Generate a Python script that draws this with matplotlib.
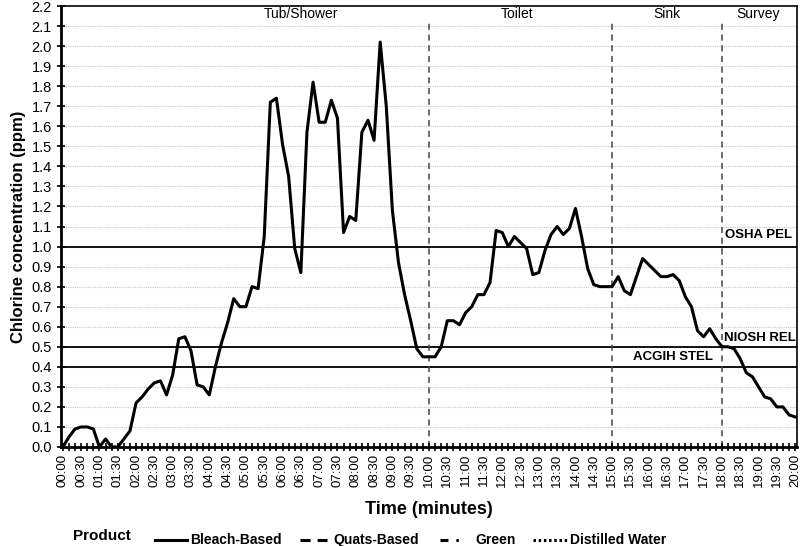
import matplotlib.pyplot as plt
from matplotlib.lines import Line2D

# -----------------------------
# Data (10-second readings, ppm)
# -----------------------------
seconds = list(range(0, 1201, 10))
bleach = [
    0.00, 0.05, 0.09, 0.10, 0.10, 0.09, 0.00, 0.04, 0.00, 0.00,
    0.04, 0.08, 0.22, 0.25, 0.29, 0.32, 0.33, 0.26, 0.36, 0.54,
    0.55, 0.48, 0.31, 0.30, 0.26, 0.40, 0.52, 0.62, 0.74, 0.70,
    0.70, 0.80, 0.79, 1.05, 1.72, 1.74, 1.51, 1.35, 0.99, 0.87,
    1.57, 1.82, 1.62, 1.62, 1.73, 1.64, 1.07, 1.15, 1.13, 1.57,
    1.63, 1.53, 2.02, 1.70, 1.18, 0.92, 0.76, 0.63, 0.49, 0.45,
    0.45, 0.45, 0.50, 0.63, 0.63, 0.61, 0.67, 0.70, 0.76, 0.76,
    0.82, 1.08, 1.07, 1.00, 1.05, 1.02, 0.99, 0.86, 0.87, 0.98,
    1.06, 1.10, 1.06, 1.09, 1.19, 1.05, 0.89, 0.81, 0.80, 0.80,
    0.80, 0.85, 0.78, 0.76, 0.85, 0.94, 0.91, 0.88, 0.85, 0.85,
    0.86, 0.83, 0.75, 0.70, 0.58, 0.55, 0.59, 0.54, 0.50, 0.50,
    0.49, 0.44, 0.37, 0.35, 0.30, 0.25, 0.24, 0.20, 0.20, 0.16,
    0.15,
]

# room boundaries (seconds) and labels
bounds = [600, 900, 1080]
rooms = ["Tub/Shower", "Toilet", "Sink", "Survey"]
room_x = [390, 745, 990, 1140]

# exposure limits (ppm)
limits = [1.0, 0.5, 0.4]

products = ["Bleach-Based", "Quats-Based", "Green", "Distilled Water"]
styles = ["-", (0, (3.3, 2.3)), (0, (2.6, 2.6, 0.8, 2.6)), (0, (0.8, 0.9))]

font = ["Liberation Sans", "DejaVu Sans"]
plt.rcParams["font.family"] = font

fig = plt.figure(figsize=(8, 5.46), dpi=100)
ax = fig.add_axes([61 / 800, 1 - 447 / 546, 736 / 800, 441 / 546])


def px(x, y):
    # figure pixel position -> figure fraction
    return x / 800, 1 - y / 546


# grid
for v in [i / 10 for i in range(1, 22)]:
    ax.axhline(v, color="#c8c8c8", lw=0.8, ls=(0, (1, 1)), zorder=0)

for v in limits:
    ax.axhline(v, color="black", lw=1.3, zorder=1)

for b in bounds:
    ax.plot([b, b], [0, 2.12], color="#444444", lw=1.1, ls=(0, (4, 3)), zorder=1)

ax.plot(seconds, bleach, color="black", lw=2.2, zorder=3)

# annotations
for x, name in zip(room_x, rooms):
    ax.text(x, 2.16, name, ha="center", va="center", fontsize=10)
ax.text(1085, 1.03, "OSHA PEL", ha="left", va="bottom", fontsize=9.5, fontweight="bold")
ax.text(1083, 0.515, "NIOSH REL", ha="left", va="bottom", fontsize=9.5, fontweight="bold")
ax.text(935, 0.42, "ACGIH STEL", ha="left", va="bottom", fontsize=9.5, fontweight="bold")

# axes
ax.set_xlim(-3, 1203)
ax.set_ylim(0, 2.2)
major = list(range(0, 1201, 30))
ax.set_xticks(major)
ax.set_xticklabels([f"{s // 60:02d}:{s % 60:02d}" for s in major], rotation=90, fontsize=9.5)
ax.set_xticks(seconds, minor=True)
ax.set_yticks([i / 10 for i in range(0, 23)])
ax.set_yticklabels([f"{i / 10:.1f}" for i in range(0, 23)], fontsize=10.5)
ax.tick_params(axis="both", which="both", direction="inout", length=6, width=1.2)
ax.tick_params(axis="x", which="both", pad=2)
for side in ["left", "bottom"]:
    ax.spines[side].set_linewidth(2)
for side in ["top", "right"]:
    ax.spines[side].set_linewidth(1.2)

ax.set_ylabel("Chlorine concentration (ppm)", fontsize=12, fontweight="bold", labelpad=4)
ax.set_xlabel("Time (minutes)", fontsize=13, fontweight="bold", labelpad=10)

# legend, drawn by hand to match the original spacing
fig.text(*px(73, 536), "Product", fontsize=11, fontweight="bold", ha="left", va="center")
handle_x = [(155, 187), (300, 327), (440, 462), (533, 567)]
text_x = [190, 333, 475, 570]
for (x0, x1), tx, style, name in zip(handle_x, text_x, styles, products):
    (fx0, fy), (fx1, _) = px(x0, 540), px(x1, 540)
    fig.add_artist(Line2D([fx0, fx1], [fy, fy], color="black", lw=2.2, ls=style,
                          transform=fig.transFigure))
    fig.text(*px(tx, 540), name, fontsize=10, fontweight="bold", ha="left", va="center")

fig.savefig("out.png", dpi=100)
